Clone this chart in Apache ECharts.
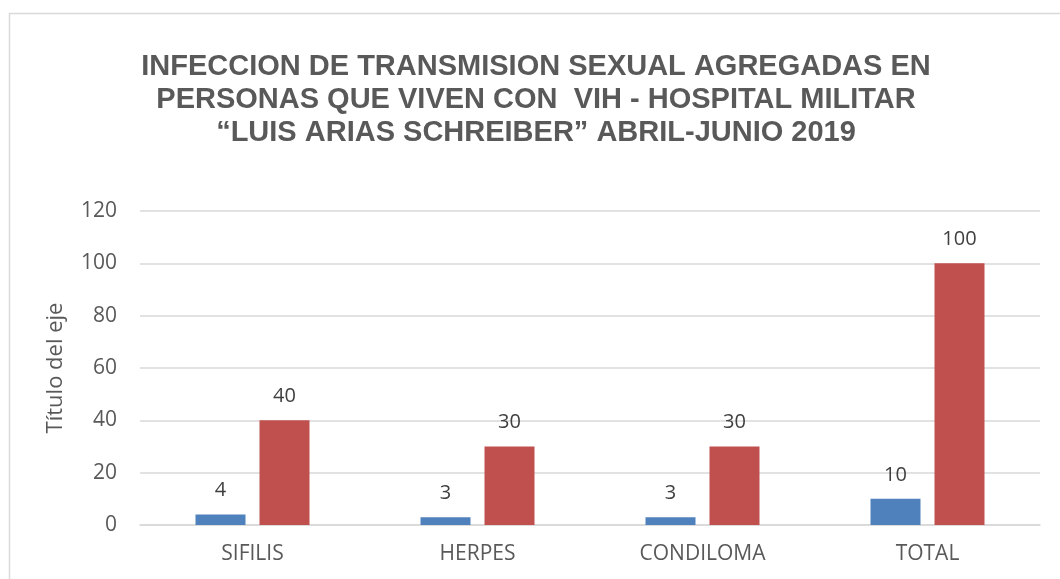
<!DOCTYPE html>
<html><head><meta charset="utf-8">
<script src="https://cdn.jsdelivr.net/npm/echarts@6/dist/echarts.min.js"></script>
<style>html,body{margin:0;padding:0;background:#fff}#c{width:1060px;height:579px}</style>
</head><body><div id="c"></div>
<script>
const categories = ['SIFILIS', 'HERPES', 'CONDILOMA', 'TOTAL'];
const seriesA = [4, 3, 3, 10];
const seriesB = [40, 30, 30, 100];
const titleText = 'INFECCION DE TRANSMISION SEXUAL AGREGADAS EN\nPERSONAS QUE VIVEN CON  VIH - HOSPITAL MILITAR\n\u201cLUIS ARIAS SCHREIBER\u201d ABRIL-JUNIO 2019';
const yAxisName = 'Título del eje';

const FONT = 'Open Sans, Liberation Sans, sans-serif';
const chart = echarts.init(document.getElementById('c'), null, {renderer: 'canvas'});
const lbl = {show: true, position: 'top', distance: 14, color: '#404040', fontSize: 20, fontFamily: FONT};
chart.setOption({
  animation: false,
  graphic: [{type: 'rect', left: 7, top: 11, shape: {width: 1100, height: 600}, style: {fill: 'none', stroke: '#d9d9d9', lineWidth: 1.5}, silent: true, z: -10}],
  title: {
    text: titleText, left: 531, top: 45, textAlign: 'center',
    textStyle: {fontFamily: 'Liberation Sans, Arial, sans-serif', fontWeight: 'bold', fontSize: 29, color: '#595959', lineHeight: 33}
  },
  grid: {left: 140, right: 20, top: 211, bottom: 54, containLabel: false},
  xAxis: {
    type: 'category', data: categories,
    axisLine: {lineStyle: {color: '#d9d9d9', width: 1.5}}, axisTick: {show: false},
    axisLabel: {color: '#595959', fontSize: 21, margin: 19, fontFamily: FONT}
  },
  yAxis: {
    type: 'value', min: 0, max: 120, interval: 20,
    name: yAxisName, nameLocation: 'middle', nameGap: 73, nameRotate: 90,
    nameTextStyle: {color: '#595959', fontSize: 22, fontFamily: FONT},
    axisLine: {show: false}, axisTick: {show: false},
    axisLabel: {color: '#595959', fontSize: 21, margin: 23, fontFamily: FONT},
    splitLine: {lineStyle: {color: '#d9d9d9', width: 1.5}}
  },
  series: [
    {type: 'bar', data: seriesA, barWidth: 50, barGap: '28%', itemStyle: {color: '#4f81bd'}, label: lbl},
    {type: 'bar', data: seriesB, barWidth: 50, barGap: '28%', itemStyle: {color: '#c0504d'}, label: lbl}
  ]
});
</script></body></html>
